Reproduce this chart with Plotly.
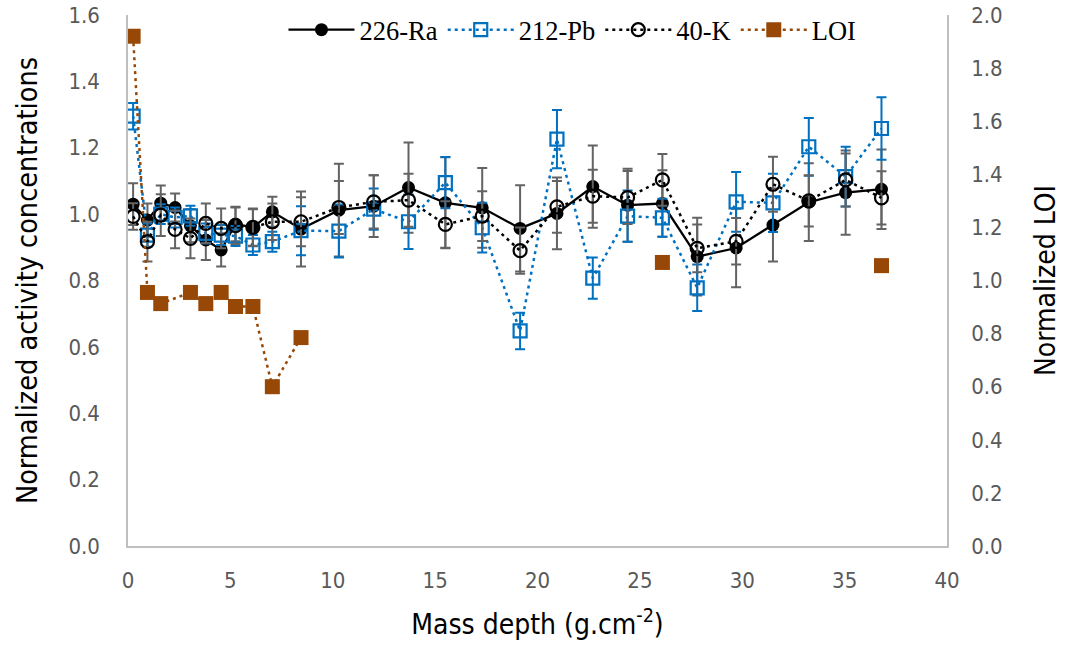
import plotly.graph_objects as go

# ---- data ----
depth = [0.25, 0.95, 1.6, 2.3, 3.05, 3.8, 4.55, 5.25, 6.1, 7.05, 8.45, 10.3, 12.0, 13.7,
         15.5, 17.3, 19.15, 20.95, 22.7, 24.4, 26.1, 27.8, 29.7, 31.5, 33.25, 35.05, 36.8]

ra226 = [1.03, 0.982, 1.033, 1.02, 0.965, 0.922, 0.892, 0.97, 0.96, 1.007, 0.955, 1.012, 1.024, 1.08,
         1.034, 1.019, 0.957, 1.002, 1.083, 1.027, 1.032, 0.872, 0.898, 0.967, 1.036, 1.065, 1.075]
ra226_err = [0.063, 0.05, 0.053, 0.042, 0.05, 0.06, 0.05, 0.052, 0.057, 0.045, 0.113, 0.14, 0.093, 0.136,
             0.137, 0.12, 0.13, 0.108, 0.124, 0.11, 0.1, 0.117, 0.118, 0.11, 0.117, 0.127, 0.12]

pb212 = [1.295, 0.937, 1.0, 0.99, 0.995, 0.942, 0.937, 0.934, 0.907, 0.917, 0.95, 0.949, 1.015, 0.977,
         1.095, 0.959, 0.648, 1.226, 0.807, 0.994, 0.989, 0.778, 1.037, 1.034, 1.203, 1.113, 1.258]
pb212_err = [0.04, 0.035, 0.03, 0.03, 0.03, 0.03, 0.03, 0.03, 0.03, 0.03, 0.074, 0.08, 0.062, 0.082,
             0.077, 0.075, 0.055, 0.088, 0.062, 0.077, 0.057, 0.07, 0.09, 0.088, 0.087, 0.09, 0.094]

k40 = [0.993, 0.917, 0.997, 0.954, 0.927, 0.972, 0.957, 0.965, 0.96, 0.977, 0.977, 1.02, 1.037, 1.042,
       0.969, 0.994, 0.89, 1.022, 1.054, 1.05, 1.103, 0.897, 0.918, 1.09, 1.04, 1.103, 1.049]
k40_err = [0.04, 0.06, 0.063, 0.057, 0.06, 0.06, 0.06, 0.055, 0.055, 0.055, 0.074, 0.08, 0.08, 0.08,
           0.07, 0.075, 0.07, 0.078, 0.08, 0.08, 0.078, 0.072, 0.07, 0.083, 0.077, 0.08, 0.08]

loi_depth = [0.25, 0.95, 1.6, 3.05, 3.8, 4.55, 5.25, 6.1, 7.05, 8.45]
loi = [1.92, 0.955, 0.913, 0.955, 0.913, 0.955, 0.902, 0.902, 0.60, 0.785]
loi_depth_iso = [26.1, 36.8]
loi_iso = [1.068, 1.056]

x_ticks = [0, 5, 10, 15, 20, 25, 30, 35, 40]

# ---- style ----
BLUE = "#0070C0"
BROWN = "#974706"
GRAY_ERR = "#636363"
AXIS = "#BFBFBF"
TICK_COL = "#595959"
SANS = "Liberation Sans Narrow, DejaVu Sans Condensed, Roboto, sans-serif"
SERIF = "Liberation Serif, DejaVu Serif, serif"
DOT = "3px,4px"

fig = go.Figure()

fig.add_trace(go.Scatter(
    x=depth, y=ra226, name="226-Ra", mode="lines+markers",
    line=dict(color="black", width=2.25),
    marker=dict(symbol="circle", size=13, color="black"),
    error_y=dict(type="data", array=ra226_err, color=GRAY_ERR, thickness=2, width=5),
))
fig.add_trace(go.Scatter(
    x=depth, y=pb212, name="212-Pb", mode="lines+markers",
    line=dict(color=BLUE, width=2.5, dash=DOT),
    marker=dict(symbol="square-open", size=13, color=BLUE, line=dict(width=2.2, color=BLUE)),
    error_y=dict(type="data", array=pb212_err, color=BLUE, thickness=2, width=5),
))
fig.add_trace(go.Scatter(
    x=depth, y=k40, name="40-K", mode="lines+markers",
    line=dict(color="black", width=2.5, dash=DOT),
    marker=dict(symbol="circle-open", size=13, color="black", line=dict(width=2.2, color="black")),
    error_y=dict(type="data", array=k40_err, color=GRAY_ERR, thickness=2, width=5),
))
fig.add_trace(go.Scatter(
    x=loi_depth, y=loi, name="LOI", mode="lines+markers", yaxis="y2",
    line=dict(color=BROWN, width=2.5, dash=DOT),
    marker=dict(symbol="square", size=15, color=BROWN),
))
fig.add_trace(go.Scatter(
    x=loi_depth_iso, y=loi_iso, name="LOI", mode="markers", yaxis="y2", showlegend=False,
    marker=dict(symbol="square", size=15, color=BROWN),
))

fig.update_layout(
    width=1075, height=646,
    margin=dict(l=128, r=128, t=15, b=100, autoexpand=False),
    paper_bgcolor="white", plot_bgcolor="white",
    showlegend=True,
    legend=dict(orientation="h", x=0.5427, xanchor="center", y=1.017, yanchor="top",
                font=dict(family=SERIF, size=26.5, color="black"), bgcolor="rgba(0,0,0,0)",
                itemwidth=66, tracegroupgap=0),
    xaxis=dict(range=[0, 40], tickvals=x_ticks, showline=True, linecolor=AXIS, linewidth=1.5,
               showgrid=False, zeroline=False, ticks="", ticklabelstandoff=14, automargin=False,
               tickfont=dict(family=SANS, size=22, color=TICK_COL),
               title=dict(text="Mass depth (g.cm<sup>-2</sup>)", standoff=22,
                          font=dict(family=SANS, size=28, color="black"))),
    yaxis=dict(range=[0, 1.6], dtick=0.2, tickformat=".1f", showline=True, linecolor=AXIS,
               linewidth=1.5, showgrid=False, zeroline=False, ticks="", ticklabelstandoff=22,
               automargin=False,
               tickfont=dict(family=SANS, size=22, color=TICK_COL),
               title=dict(text="Normalized activity concentrations", standoff=22,
                          font=dict(family=SANS, size=28.5, color="black"))),
    yaxis2=dict(range=[0, 2.0], dtick=0.2, tickformat=".1f", overlaying="y", side="right",
                showline=True, linecolor=AXIS, linewidth=1.5, showgrid=False, zeroline=False,
                ticks="", ticklabelstandoff=18, automargin=False,
                tickfont=dict(family=SANS, size=22, color=TICK_COL),
                title=dict(text="Normalized LOI", standoff=34,
                           font=dict(family=SANS, size=28, color="black"))),
)

fig.write_html("out.html")
